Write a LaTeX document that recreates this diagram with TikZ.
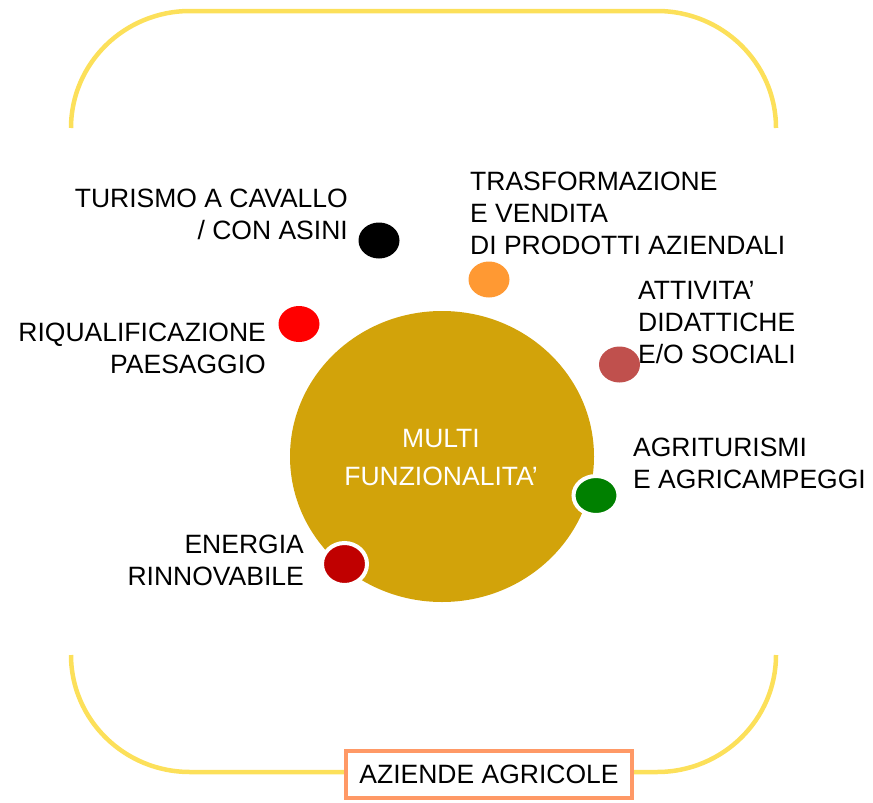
\documentclass[tikz,border=0pt]{standalone}
\usepackage{fontspec}
\setmainfont{Liberation Sans}
\usepackage{xcolor}
\usepackage{tikz}
\usetikzlibrary{shapes.geometric}
\definecolor{gold}{HTML}{D2A30A}
\definecolor{frame}{HTML}{FCE05A}
\definecolor{boxline}{HTML}{FF9966}

\begin{document}
\begin{tikzpicture}[x=1pt, y=-1pt,
    hub/.style={ellipse, fill=gold, minimum width=304pt, minimum height=291pt, inner sep=0pt},
    bub/.style={ellipse, minimum width=41pt, minimum height=36pt, inner sep=0pt},
    lbl/.style={inner sep=0pt, font=\fontsize{26.5}{32}\selectfont},
    frm/.style={draw=frame, line width=4.5pt}
]
    \useasboundingbox (0,0) rectangle (873,803);

    % Frame
    \draw[frm] (71,128) arc[start angle=180, end angle=270, x radius=119, y radius=117]
        -- (657,11) arc[start angle=270, end angle=360, x radius=119, y radius=117];
    \draw[frm] (71,655) arc[start angle=180, end angle=90, x radius=119, y radius=117]
        -- (657,772) arc[start angle=90, end angle=0, x radius=119, y radius=117];
    \node[rectangle, draw=boxline, line width=4pt, fill=white, minimum width=286pt, minimum height=47pt, lbl, inner sep=0pt] (aziende) at (489,774.5) {AZIENDE AGRICOLE};

    % Centre
    \node[hub] (multi) at (442,456.5) {};
    \node[lbl, text=white, align=center, anchor=base, font=\fontsize{26.5}{38}\selectfont] (multitxt) at (441,485) {MULTI\\FUNZIONALITA’};

    % Dots
    \node[bub, fill=black] (turismo) at (379,240.5) {};
    \node[bub, fill={rgb,255:red,255;green,153;blue,51}] (trasf) at (489,279.5) {};
    \node[bub, fill=red] (riqual) at (299,324) {};
    \node[bub, fill={rgb,255:red,192;green,80;blue,77}] (attiv) at (619.5,364.5) {};
    \node[bub, fill={rgb,255:red,0;green,128;blue,0}, draw=white, line width=4pt, minimum width=45pt, minimum height=39pt] (agri) at (596,495.5) {};
    \node[bub, fill={rgb,255:red,192;green,0;blue,0}, draw=white, line width=4pt, minimum width=45pt, minimum height=42pt] (energia) at (344.5,564) {};

    % Labels
    \node[lbl, align=right, anchor=base east] (turismotxt) at (348,239) {TURISMO A CAVALLO\\/ CON ASINI};
    \node[lbl, align=left, anchor=base west] (trasftxt) at (470,254) {TRASFORMAZIONE\\E VENDITA\\DI PRODOTTI AZIENDALI};
    \node[lbl, align=right, anchor=base east] (riqualtxt) at (266,373) {RIQUALIFICAZIONE\\PAESAGGIO};
    \node[lbl, align=left, anchor=base west] (attivtxt) at (638,363) {ATTIVITA’\\DIDATTICHE\\E/O SOCIALI};
    \node[lbl, align=left, anchor=base west] (agritxt) at (633,488) {AGRITURISMI\\E AGRICAMPEGGI};
    \node[lbl, align=right, anchor=base east] (energiatxt) at (304,585) {ENERGIA\\RINNOVABILE};
\end{tikzpicture}
\end{document}
